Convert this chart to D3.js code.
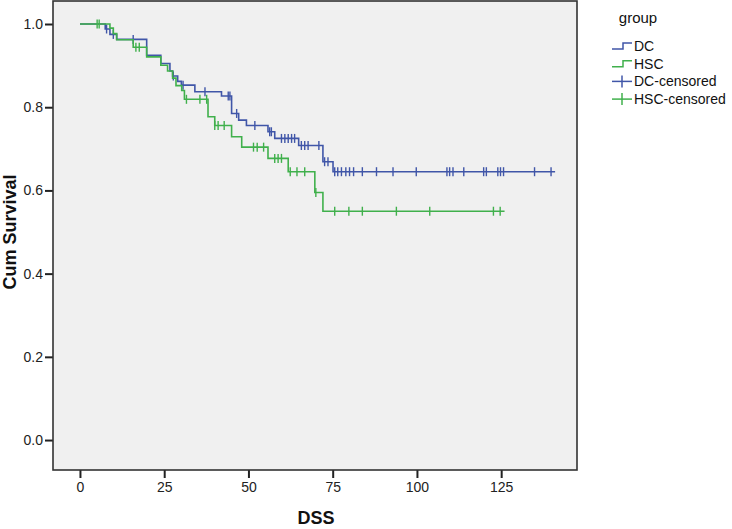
<!DOCTYPE html>
<html lang="en">
<head>
    <meta charset="UTF-8">
    <title>Cum Survival by group</title>
    <script src="https://cdnjs.cloudflare.com/ajax/libs/d3/7.8.5/d3.min.js"></script>
    <style>
        * { margin: 0; padding: 0; }
        body { background: #fff; font-family: 'Liberation Sans', Arial, sans-serif; }
        .tick text { font-size: 14px; fill: #222; font-family: 'Liberation Sans', Arial, sans-serif; }
        .tick line { stroke: #222; stroke-width: 2; }
    </style>
</head>
<body>
<div id="chart"></div>
<script>
    // Kaplan-Meier steps: time where survival drops, and the new survival value
    const dcTimes = [0, 7.5, 8.9, 10.9, 19.8, 24, 26.7, 27.5, 29, 30.1, 34.1, 42, 45, 47.1, 49.4, 55.8, 57.8, 64.9, 72.1, 75.1];
    const dcSurv  = [1.0, 0.988, 0.975, 0.963, 0.925, 0.905, 0.887, 0.875, 0.862, 0.853, 0.837, 0.827, 0.785, 0.769, 0.756, 0.741, 0.725, 0.708, 0.669, 0.645];
    const dcEnd = 141;
    const dcCensored = [7.9, 9.9, 15.8, 27.7, 30.6, 37.1, 44, 44.5, 46.5, 51.9, 56.3, 56.8, 59.8, 60.8, 61.8, 62.8, 63.7,
        65.7, 66.7, 67.7, 70.9, 72.6, 73.6, 75.6, 76.5, 77.6, 78.9, 80, 81.2, 83.8, 88, 92.9, 99.8,
        108.9, 109.7, 110.7, 113.9, 119.8, 120.6, 124, 124.8, 125.7, 134.9, 139.8];

    const hscTimes = [0, 8.9, 9.9, 10.9, 15.8, 19.8, 24, 26, 27.5, 28.5, 30.2, 31, 38, 40, 45, 48, 55.8, 61.8, 69.7, 72.1];
    const hscSurv  = [1.0, 0.99, 0.977, 0.962, 0.944, 0.921, 0.901, 0.887, 0.87, 0.852, 0.84, 0.819, 0.777, 0.756, 0.729, 0.704, 0.677, 0.645, 0.595, 0.55];
    const hscEnd = 126;
    const hscCensored = [5.1, 5.7, 16.6, 17.6, 31.6, 35.6, 37.6, 40, 41, 42.8, 51.5, 52.6, 54.5, 57.8, 58.8, 59.8,
        62.4, 64.4, 66.7, 70, 75.6, 79.8, 83.8, 93.9, 103.8, 122.7, 124.7];

    const xTicks = [0, 25, 50, 75, 100, 125];
    const yTicks = [0, 0.2, 0.4, 0.6, 0.8, 1.0];

    const groups = [
        { name: "DC", times: dcTimes, surv: dcSurv, end: dcEnd, censored: dcCensored, color: "#4056a8" },
        { name: "HSC", times: hscTimes, surv: hscSurv, end: hscEnd, censored: hscCensored, color: "#40b04c" }
    ];

    const W = 732, H = 529;
    const plot = { left: 53, right: 577, top: 1, bottom: 470 };

    const svg = d3.select("#chart").append("svg")
        .attr("width", W).attr("height", H);

    const x = d3.scaleLinear().domain([-8, 147.5]).range([plot.left, plot.right]);
    const y = d3.scaleLinear().domain([-0.072, 1.0553]).range([plot.bottom, plot.top]);

    svg.append("rect")
        .attr("x", plot.left).attr("y", plot.top)
        .attr("width", plot.right - plot.left).attr("height", plot.bottom - plot.top)
        .attr("fill", "#f0f0f0");

    // axes
    svg.append("g")
        .attr("transform", `translate(0,${plot.bottom})`)
        .call(d3.axisBottom(x).tickValues(xTicks).tickSize(8).tickSizeOuter(0).tickPadding(4))
        .call(g => g.select(".domain").remove());

    svg.append("g")
        .attr("transform", `translate(${plot.left},0)`)
        .call(d3.axisLeft(y).tickValues(yTicks).tickFormat(d3.format(".1f")).tickSize(8).tickSizeOuter(0).tickPadding(2))
        .call(g => g.select(".domain").remove());

    svg.append("rect")
        .attr("x", plot.left).attr("y", plot.top)
        .attr("width", plot.right - plot.left).attr("height", plot.bottom - plot.top)
        .attr("fill", "none").attr("stroke", "#333").attr("stroke-width", 1.6);

    function survAt(g, t) {
        let s = g.surv[0];
        for (let i = 0; i < g.times.length; i++) if (g.times[i] <= t) s = g.surv[i];
        return s;
    }

    const line = d3.line().x(d => x(d[0])).y(d => y(d[1])).curve(d3.curveStepAfter);

    groups.forEach(g => {
        const pts = g.times.map((t, i) => [t, g.surv[i]]);
        pts.push([g.end, g.surv[g.surv.length - 1]]);
        svg.append("path")
            .attr("d", line(pts))
            .attr("fill", "none")
            .attr("stroke", g.color)
            .attr("stroke-width", 1.6);

        svg.append("g").selectAll("line")
            .data(g.censored)
            .join("line")
            .attr("x1", d => x(d)).attr("x2", d => x(d))
            .attr("y1", d => y(survAt(g, d)) - 4.5)
            .attr("y2", d => y(survAt(g, d)) + 4.5)
            .attr("stroke", g.color)
            .attr("stroke-width", 1.4);
    });

    // axis titles
    svg.append("text")
        .attr("x", 316).attr("y", 524)
        .attr("text-anchor", "middle")
        .attr("font-size", 18).attr("font-weight", "bold")
        .attr("fill", "#111")
        .text("DSS");

    svg.append("text")
        .attr("transform", "translate(16,232) rotate(-90)")
        .attr("text-anchor", "middle")
        .attr("font-size", 18).attr("font-weight", "bold")
        .attr("fill", "#111")
        .text("Cum Survival");

    // legend
    const legend = svg.append("g");
    legend.append("text")
        .attr("x", 638).attr("y", 23)
        .attr("text-anchor", "middle")
        .attr("font-size", 15).attr("fill", "#111")
        .text("group");

    const legendItems = [
        { label: "DC", color: groups[0].color, kind: "step" },
        { label: "HSC", color: groups[1].color, kind: "step" },
        { label: "DC-censored", color: groups[0].color, kind: "cens" },
        { label: "HSC-censored", color: groups[1].color, kind: "cens" }
    ];
    legendItems.forEach((d, i) => {
        const cy = 46 + i * 17.7;
        if (d.kind === "step") {
            legend.append("path")
                .attr("d", `M612,${cy + 3}H623V${cy - 3}H632`)
                .attr("fill", "none").attr("stroke", d.color).attr("stroke-width", 1.5);
        } else {
            legend.append("line")
                .attr("x1", 612).attr("x2", 632).attr("y1", cy).attr("y2", cy)
                .attr("stroke", d.color).attr("stroke-width", 1.5);
            legend.append("line")
                .attr("x1", 622).attr("x2", 622).attr("y1", cy - 6).attr("y2", cy + 6)
                .attr("stroke", d.color).attr("stroke-width", 1.5);
        }
        legend.append("text")
            .attr("x", 634).attr("y", cy + 5)
            .attr("font-size", 14).attr("fill", "#111")
            .text(d.label);
    });
</script>
</body>
</html>
